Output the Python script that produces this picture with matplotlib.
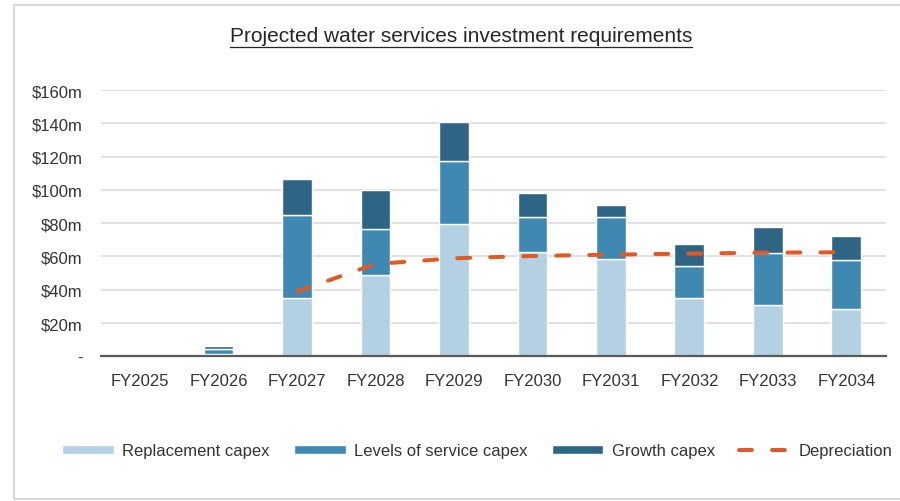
import numpy as np
import matplotlib
matplotlib.use("Agg")
import matplotlib.pyplot as plt
from matplotlib import font_manager
from matplotlib.lines import Line2D
from matplotlib.patches import Rectangle

categories = ["FY2025", "FY2026", "FY2027", "FY2028", "FY2029",
              "FY2030", "FY2031", "FY2032", "FY2033", "FY2034"]
replacement = [0, 1.5, 35.1, 48.9, 79.2, 62.9, 58.3, 35.1, 30.9, 28.5]
levels = [0, 3.0, 49.9, 27.3, 38.3, 21.1, 25.7, 19.0, 31.2, 29.2]
growth = [0, 1.9, 21.7, 23.6, 23.2, 14.0, 7.2, 13.6, 15.3, 14.3]
depreciation = [np.nan, np.nan, 38.9, 55.5, 58.9, 60.3, 61.1, 61.7, 62.3, 62.5]
yticks = [0, 20, 40, 60, 80, 100, 120, 140, 160]
ytick_labels = ["-", "$20m", "$40m", "$60m", "$80m", "$100m", "$120m", "$140m", "$160m"]
title = "Projected water services investment requirements"
series_names = ["Replacement capex", "Levels of service capex", "Growth capex", "Depreciation"]

c_rep = "#b3d1e3"
c_lvl = "#3f88b2"
c_grw = "#2f6584"
c_dep = "#e05a28"

plt.rcParams["font.family"] = ["Liberation Sans", "DejaVu Sans"]
names = {f.name for f in font_manager.fontManager.ttflist}
title_font = "Liberation Sans Narrow" if "Liberation Sans Narrow" in names else "Liberation Sans"
title_size = 17 if title_font == "Liberation Sans Narrow" else 15

fig = plt.figure(figsize=(9, 5.02), dpi=100)
ax = fig.add_axes([0.112, 0.2882, 0.872, 0.5305])

x = np.arange(len(categories))
w = 0.38
rep = np.array(replacement)
lvl = np.array(levels)
grw = np.array(growth)
h1 = ax.bar(x, rep, w, color=c_rep, edgecolor="white", linewidth=1.0, zorder=3)
h2 = ax.bar(x, lvl, w, bottom=rep, color=c_lvl, edgecolor="white", linewidth=1.0, zorder=3)
h3 = ax.bar(x, grw, w, bottom=rep + lvl, color=c_grw, edgecolor="white", linewidth=1.0, zorder=3)
h4, = ax.plot(x, depreciation, color=c_dep, linewidth=2.9, dashes=(3.2, 5.0),
              dash_capstyle="round", solid_capstyle="round", zorder=4)

ax.set_xlim(-0.5, len(categories) - 0.5)
ax.set_ylim(0, 160)
ax.set_yticks(yticks)
ax.set_yticklabels(ytick_labels)
ax.set_xticks(x)
ax.set_xticklabels(categories)
ax.tick_params(axis="both", length=0, labelsize=12, colors="#333333")
ax.tick_params(axis="y", pad=13)
ax.tick_params(axis="x", pad=12)
ax.grid(axis="y", color="#d9d9d9", linewidth=1.1, zorder=0)
for s in ["top", "right", "left"]:
    ax.spines[s].set_visible(False)
ax.spines["bottom"].set_color("#595959")
ax.spines["bottom"].set_linewidth(1.6)
ax.spines["bottom"].set_zorder(5)

leg = fig.legend([h1, h2, h3, h4], series_names, loc="center",
                 bbox_to_anchor=(0.5306, 1 - 452 / 502), ncol=4,
                 frameon=False, fontsize=12, handlelength=3.1, handleheight=0.45,
                 handletextpad=0.5, columnspacing=1.45)
for t in leg.get_texts():
    t.set_color("#333333")

t = fig.text(0.512, 1 - 37 / 502, title, ha="center", va="center",
             fontsize=title_size, family=title_font, color="#262626")
fig.canvas.draw()
bb = t.get_window_extent().transformed(fig.transFigure.inverted())
uy = 1 - 48 / 502
fig.add_artist(Line2D([bb.x0, bb.x1], [uy, uy], transform=fig.transFigure,
                      color="#262626", linewidth=0.9))

fig.add_artist(Rectangle((13.5 / 900, 1 - 499.5 / 502), 1.2, (499.5 - 5.5) / 502,
                         transform=fig.transFigure, fill=False,
                         edgecolor="#d9d9d9", linewidth=1.5))

fig.savefig("out.png", dpi=100)
